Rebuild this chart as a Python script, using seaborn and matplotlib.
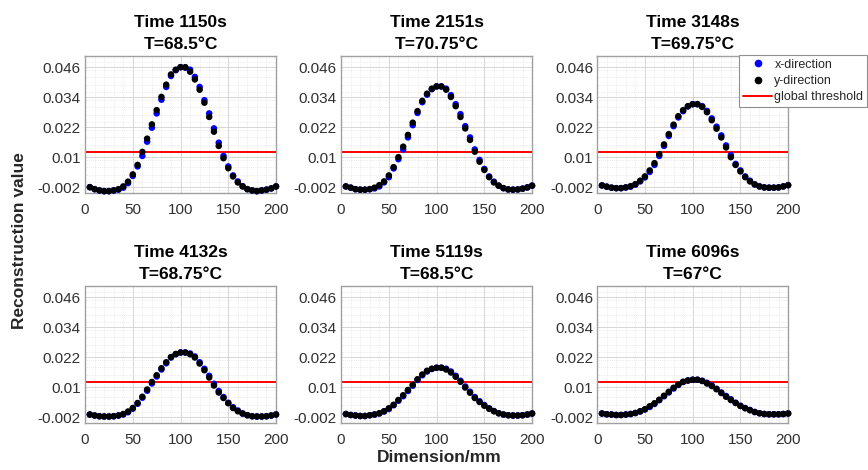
import numpy as np
import pandas as pd
import seaborn as sns
import matplotlib.pyplot as plt
from matplotlib.lines import Line2D
from matplotlib.ticker import MultipleLocator

# positions along the sample (mm)
dimension = [5, 10, 15, 20, 25, 30, 35, 40, 45, 50, 55, 60, 65, 70, 75, 80, 85, 90, 95, 100,
             105, 110, 115, 120, 125, 130, 135, 140, 145, 150, 155, 160, 165, 170, 175, 180, 185, 190, 195, 200]

times = ['1150', '2151', '3148', '4132', '5119', '6096']
temps = ['68.5', '70.75', '69.75', '68.75', '68.5', '67']
threshold = 0.012

# x-direction (blue) reconstruction values, one list per time step
x_1150 = [-0.0019, -0.0027, -0.0032, -0.0035, -0.0035, -0.0032, -0.0029, -0.0021, -0.0003, 0.0026,
          0.0064, 0.0106, 0.0163, 0.0219, 0.0276, 0.0331, 0.0382, 0.0426, 0.0449, 0.0461,
          0.0459, 0.0451, 0.0422, 0.0382, 0.0329, 0.0276, 0.0216, 0.0159, 0.0106, 0.0064,
          0.0028, 0.0004, -0.0015, -0.0027, -0.0032, -0.0035, -0.0032, -0.0029, -0.0024, -0.0016]
x_2151 = [-0.0016, -0.0021, -0.0027, -0.0029, -0.0029, -0.0027, -0.0024, -0.0016, 0.0000, 0.0021,
          0.0056, 0.0093, 0.0132, 0.0180, 0.0229, 0.0278, 0.0321, 0.0351, 0.0373, 0.0384,
          0.0384, 0.0375, 0.0349, 0.0313, 0.0273, 0.0225, 0.0180, 0.0132, 0.0090, 0.0054,
          0.0024, 0.0003, -0.0013, -0.0023, -0.0028, -0.0029, -0.0028, -0.0025, -0.0020, -0.0013]
x_3148 = [-0.0012, -0.0017, -0.0021, -0.0023, -0.0023, -0.0020, -0.0017, -0.0009, 0.0004, 0.0020,
          0.0042, 0.0070, 0.0106, 0.0146, 0.0186, 0.0225, 0.0260, 0.0285, 0.0304, 0.0313,
          0.0313, 0.0305, 0.0286, 0.0256, 0.0223, 0.0188, 0.0148, 0.0109, 0.0074, 0.0048,
          0.0024, 0.0007, -0.0008, -0.0016, -0.0020, -0.0021, -0.0021, -0.0020, -0.0016, -0.0011]
x_4132 = [-0.0009, -0.0013, -0.0016, -0.0017, -0.0017, -0.0016, -0.0013, -0.0009, 0.0000, 0.0014,
          0.0034, 0.0058, 0.0086, 0.0115, 0.0143, 0.0171, 0.0196, 0.0219, 0.0232, 0.0239,
          0.0239, 0.0235, 0.0223, 0.0200, 0.0174, 0.0146, 0.0114, 0.0085, 0.0061, 0.0038,
          0.0020, 0.0007, -0.0005, -0.0012, -0.0016, -0.0017, -0.0017, -0.0016, -0.0013, -0.0009]
x_5119 = [-0.0007, -0.0011, -0.0013, -0.0015, -0.0015, -0.0012, -0.0009, -0.0005, 0.0003, 0.0013,
          0.0028, 0.0046, 0.0064, 0.0085, 0.0106, 0.0129, 0.0148, 0.0163, 0.0173, 0.0178,
          0.0178, 0.0174, 0.0163, 0.0146, 0.0126, 0.0103, 0.0082, 0.0061, 0.0044, 0.0029,
          0.0016, 0.0005, -0.0004, -0.0009, -0.0012, -0.0013, -0.0013, -0.0012, -0.0009, -0.0005]
x_6096 = [-0.0005, -0.0008, -0.0009, -0.0011, -0.0011, -0.0009, -0.0007, -0.0003, 0.0003, 0.0011,
          0.0021, 0.0033, 0.0048, 0.0064, 0.0079, 0.0095, 0.0109, 0.0121, 0.0127, 0.0130,
          0.0130, 0.0126, 0.0118, 0.0107, 0.0094, 0.0079, 0.0065, 0.0052, 0.0038, 0.0026,
          0.0017, 0.0009, 0.0001, -0.0004, -0.0007, -0.0008, -0.0008, -0.0008, -0.0007, -0.0005]

# y-direction (black) reconstruction values
y_1150 = [-0.0019, -0.0027, -0.0032, -0.0035, -0.0035, -0.0032, -0.0027, -0.0016, 0.0003, 0.0032,
          0.0070, 0.0122, 0.0175, 0.0232, 0.0289, 0.0342, 0.0391, 0.0432, 0.0451, 0.0461,
          0.0461, 0.0443, 0.0412, 0.0371, 0.0319, 0.0262, 0.0203, 0.0146, 0.0097, 0.0057,
          0.0024, 0.0000, -0.0016, -0.0027, -0.0032, -0.0035, -0.0032, -0.0029, -0.0024, -0.0016]
y_2151 = [-0.0016, -0.0021, -0.0027, -0.0029, -0.0029, -0.0027, -0.0021, -0.0011, 0.0004, 0.0028,
          0.0061, 0.0101, 0.0143, 0.0190, 0.0239, 0.0285, 0.0326, 0.0355, 0.0375, 0.0384,
          0.0384, 0.0371, 0.0342, 0.0305, 0.0262, 0.0216, 0.0170, 0.0123, 0.0083, 0.0050,
          0.0021, 0.0000, -0.0013, -0.0023, -0.0028, -0.0029, -0.0028, -0.0025, -0.0020, -0.0013]
y_3148 = [-0.0012, -0.0017, -0.0021, -0.0023, -0.0023, -0.0020, -0.0015, -0.0007, 0.0007, 0.0024,
          0.0048, 0.0077, 0.0113, 0.0152, 0.0193, 0.0231, 0.0265, 0.0289, 0.0305, 0.0313,
          0.0313, 0.0302, 0.0281, 0.0249, 0.0215, 0.0180, 0.0140, 0.0101, 0.0070, 0.0044,
          0.0021, 0.0004, -0.0008, -0.0016, -0.0020, -0.0021, -0.0021, -0.0020, -0.0016, -0.0011]
y_4132 = [-0.0009, -0.0013, -0.0016, -0.0017, -0.0017, -0.0016, -0.0013, -0.0007, 0.0003, 0.0017,
          0.0037, 0.0062, 0.0091, 0.0121, 0.0148, 0.0176, 0.0200, 0.0221, 0.0233, 0.0239,
          0.0239, 0.0232, 0.0219, 0.0195, 0.0168, 0.0139, 0.0107, 0.0079, 0.0057, 0.0036,
          0.0017, 0.0004, -0.0005, -0.0012, -0.0016, -0.0017, -0.0017, -0.0016, -0.0013, -0.0009]
y_5119 = [-0.0007, -0.0011, -0.0013, -0.0015, -0.0015, -0.0012, -0.0009, -0.0004, 0.0004, 0.0016,
          0.0030, 0.0049, 0.0068, 0.0089, 0.0110, 0.0132, 0.0151, 0.0166, 0.0174, 0.0178,
          0.0178, 0.0171, 0.0159, 0.0142, 0.0122, 0.0099, 0.0078, 0.0057, 0.0041, 0.0026,
          0.0014, 0.0004, -0.0004, -0.0009, -0.0012, -0.0013, -0.0013, -0.0012, -0.0009, -0.0005]
y_6096 = [-0.0005, -0.0008, -0.0009, -0.0011, -0.0011, -0.0009, -0.0007, -0.0003, 0.0004, 0.0012,
          0.0024, 0.0036, 0.0050, 0.0066, 0.0082, 0.0098, 0.0111, 0.0122, 0.0127, 0.0130,
          0.0130, 0.0125, 0.0115, 0.0105, 0.0092, 0.0077, 0.0062, 0.0049, 0.0037, 0.0025,
          0.0016, 0.0008, 0.0001, -0.0004, -0.0007, -0.0008, -0.0008, -0.0008, -0.0007, -0.0005]

x_series = [x_1150, x_2151, x_3148, x_4132, x_5119, x_6096]
y_series = [y_1150, y_2151, y_3148, y_4132, y_5119, y_6096]

y_ticks = [-0.002, 0.01, 0.022, 0.034, 0.046]
y_tick_labels = ['-0.002', '0.01', '0.022', '0.034', '0.046']
x_ticks = [0, 50, 100, 150, 200]

sns.set_theme(style='white')
plt.rcParams['font.family'] = ['Liberation Sans', 'DejaVu Sans']

fig = plt.figure(figsize=(8.68, 4.70), dpi=100)

lefts = [0.098, 0.393, 0.688]
bottoms = [0.589, 0.100]
w, h = 0.220, 0.292

palette = {'x-direction': '#0000ff', 'y-direction': '#000000'}

for i in range(6):
    row, col = divmod(i, 3)
    ax = fig.add_axes([lefts[col], bottoms[row], w, h])

    df = pd.DataFrame({
        'Dimension': dimension + dimension,
        'value': x_series[i] + y_series[i],
        'direction': ['x-direction'] * len(dimension) + ['y-direction'] * len(dimension),
    })
    sns.scatterplot(data=df, x='Dimension', y='value', hue='direction', palette=palette,
                    s=22, linewidth=0, legend=False, ax=ax, clip_on=False, zorder=3)
    ax.axhline(threshold, color='#ff0000', lw=1.4, zorder=2)

    ax.set_xlim(0, 200)
    ax.set_ylim(-0.0043, 0.0506)
    ax.set_xticks(x_ticks)
    ax.set_yticks(y_ticks)
    ax.set_yticklabels(y_tick_labels)
    ax.xaxis.set_minor_locator(MultipleLocator(10))
    ax.yaxis.set_minor_locator(MultipleLocator(0.003))
    ax.grid(True, which='major', color='#d0d0d0', lw=0.6, ls='-')
    ax.grid(True, which='minor', color='#dcdcdc', lw=0.5, ls=':')
    ax.set_axisbelow(True)
    ax.tick_params(axis='both', which='major', direction='in', length=3, width=0.6,
                   color='#8c8c8c', labelsize=11, labelcolor='#303030')
    ax.tick_params(axis='x', which='major', pad=7)
    ax.tick_params(axis='y', which='major', pad=3)
    ax.tick_params(which='minor', length=0)
    for sp in ax.spines.values():
        sp.set_color('#a0a0a0')
        sp.set_linewidth(1.0)
    ax.set_xlabel('')
    ax.set_ylabel('')
    ax.set_title(f'Time {times[i]}s\nT={temps[i]}°C', fontsize=12.5, fontweight='bold',
                 linespacing=1.6, pad=5, color='#000000')

fig.text(0.022, 0.489, 'Reconstruction value', rotation=90, ha='center', va='center',
         fontsize=12.5, fontweight='bold', color='#262626')
fig.text(0.506, 0.026, 'Dimension/mm', ha='center', va='center',
         fontsize=12.5, fontweight='bold', color='#262626')

handles = [
    Line2D([], [], ls='', marker='o', markersize=4.5, color='#0000ff'),
    Line2D([], [], ls='', marker='o', markersize=4.5, color='#000000'),
    Line2D([], [], color='#ff0000', lw=1.4),
]
leg = fig.legend(handles, ['x-direction', 'y-direction', 'global threshold'],
                 loc='upper right', bbox_to_anchor=(0.999, 0.883), fontsize=9,
                 frameon=True, fancybox=False, framealpha=1, edgecolor='#909090',
                 handlelength=2.3, handletextpad=0.2, labelspacing=0.35, borderpad=0.3,
                 borderaxespad=0)
leg.get_frame().set_linewidth(0.8)

fig.savefig('out.png', dpi=100)
